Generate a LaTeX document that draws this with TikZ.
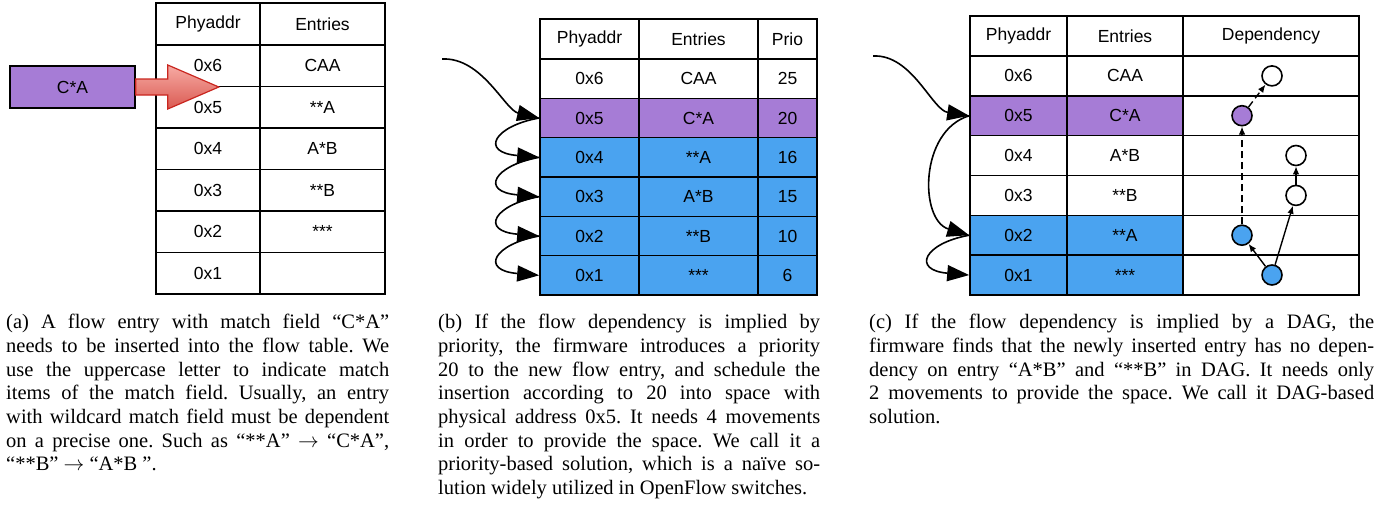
\documentclass[tikz,border=0pt]{standalone}
\usepackage{fontspec}
\setmainfont{Liberation Serif}
\setsansfont{Liberation Sans}
\usetikzlibrary{arrows.meta}
\definecolor{purp}{HTML}{A67CD6}
\definecolor{blu}{HTML}{4AA3F0}
\definecolor{arrred}{HTML}{C9261F}
\definecolor{arrtop}{HTML}{F7ABA4}
\definecolor{arrbot}{HTML}{DA5A52}
\newcommand{\jline}[2]{\makebox[#1][s]{#2}}
\frenchspacing
\begin{document}
\begin{tikzpicture}[x=1pt,y=-1pt,
  cell/.style={draw, line width=1.6pt, inner sep=0pt, font=\sffamily\fontsize{17.5}{20}\selectfont},
  depnode/.style={circle, draw, line width=1.6pt, minimum size=20pt, inner sep=0pt},
  move/.style={line width=1.6pt, -{Triangle[length=22pt,width=16pt]}},
  dep/.style={line width=1.4pt, -{Latex[length=8pt,width=6.5pt]}},
  depdash/.style={dep, dash pattern=on 7pt off 4pt},
  captext/.style={inner sep=0pt, anchor=north west, align=left, font=\fontsize{20.5}{23.7}\selectfont},
]
\useasboundingbox (0,0) rectangle (1396,506);

% ---------- panel (a) ----------
\node[cell, minimum width=104pt, minimum height=42pt] (a-h-1) at (208,24) {Phyaddr};
\node[cell, minimum width=125pt, minimum height=42pt] (a-h-2) at (322.5,24) {Entries};
\foreach \ad/\en [count=\i] in {0x6/CAA,0x5/**A,0x4/A*B,0x3/**B,0x2/***,0x1/{}}{
  \node[cell, minimum width=104pt, minimum height=41.5pt] (a-\i-1) at (208,{45+41.5*(\i-0.5)}) {\ad};
  \node[cell, minimum width=125pt, minimum height=41.5pt] (a-\i-2) at (322.5,{45+41.5*(\i-0.5)}) {\en};
}
\node[cell, fill=purp, minimum width=125pt, minimum height=42pt] (cab) at (72.5,87) {C*A};
\draw[line width=1.2pt, draw=arrred, top color=arrtop, bottom color=arrbot]
  (cab.east) ++(0,-8) -- ++(32,0) -- ++(0,-14) -- ++(51,22) -- ++(-51,22) -- ++(0,-14) -- ++(-32,0) -- cycle;

% ---------- panel (b) ----------
\node[cell, minimum width=99pt, minimum height=40pt] (b-h-1) at (589.5,39) {Phyaddr};
\node[cell, minimum width=119pt, minimum height=40pt] (b-h-2) at (698.5,39) {Entries};
\node[cell, minimum width=59pt, minimum height=40pt] (b-h-3) at (787.5,39) {Prio};
\foreach \ad/\en/\pr/\fc [count=\i] in {0x6/CAA/25/white,0x5/C*A/20/purp,0x4/**A/16/blu,0x3/A*B/15/blu,0x2/**B/10/blu,0x1/***/6/blu}{
  \node[cell, fill=\fc, minimum width=99pt, minimum height=39.33pt] (b-\i-1) at (589.5,{59+39.33*(\i-0.5)}) {\ad};
  \node[cell, fill=\fc, minimum width=119pt, minimum height=39.33pt] (b-\i-2) at (698.5,{59+39.33*(\i-0.5)}) {\en};
  \node[cell, fill=\fc, minimum width=59pt, minimum height=39.33pt] (b-\i-3) at (787.5,{59+39.33*(\i-0.5)}) {\pr};
}
\coordinate (b-in) at (442,59);
\draw[move] (b-in) .. controls (482,57) and (505,110) .. (b-2-1.west);
\foreach \i [evaluate=\i as \j using int(\i+1)] in {2,3,4,5}{
  \draw[move] (b-\i-1.west) .. controls +(-45,8) and +(-60,-5) .. (b-\j-1.west);
}

% ---------- panel (c) ----------
\node[cell, minimum width=97pt, minimum height=40pt] (c-h-1) at (1018.5,36) {Phyaddr};
\node[cell, minimum width=116pt, minimum height=40pt] (c-h-2) at (1125,36) {Entries};
\node[cell, minimum width=176pt, minimum height=40pt] (c-h-3) at (1271,36) {Dependency};
\foreach \ad/\en/\fc [count=\i] in {0x6/CAA/white,0x5/C*A/purp,0x4/A*B/white,0x3/**B/white,0x2/**A/blu,0x1/***/blu}{
  \node[cell, fill=\fc, minimum width=97pt, minimum height=39.83pt] (c-\i-1) at (1018.5,{56+39.83*(\i-0.5)}) {\ad};
  \node[cell, fill=\fc, minimum width=116pt, minimum height=39.83pt] (c-\i-2) at (1125,{56+39.83*(\i-0.5)}) {\en};
  \node[cell, minimum width=176pt, minimum height=39.83pt] (c-\i-3) at (1271,{56+39.83*(\i-0.5)}) {};
}
\coordinate (c-in) at (873,56);
\draw[move] (c-in) .. controls (912,54) and (932,110) .. (c-2-1.west);
\draw[move] (c-2-1.west) .. controls +(-50,15) and +(-50,-15) .. (c-5-1.west);
\draw[move] (c-5-1.west) .. controls +(-45,8) and +(-58,-5) .. (c-6-1.west);

\node[depnode] (d6) at (1272,75.9) {};
\node[depnode, fill=purp] (d5) at (1242,115.7) {};
\node[depnode] (d4) at (1296,155.5) {};
\node[depnode] (d3) at (1296,195.4) {};
\node[depnode, fill=blu] (d2) at (1242,235.2) {};
\node[depnode, fill=blu] (d1) at (1272,275) {};
\draw[depdash] (d5) -- (d6);
\draw[depdash] (d2) -- (d5);
\draw[dep] (d3) -- (d4);
\draw[dep] (d1) -- (d2);
\draw[dep] (d1) -- (d3);

% ---------- captions ----------
\node[captext] (capa) at (6,314) {%
\jline{383pt}{(a) A flow entry with match field “C*A”}\\
\jline{383pt}{needs to be inserted into the flow table. We}\\
\jline{383pt}{use the uppercase letter to indicate match}\\
\jline{383pt}{items of the match field. Usually, an entry}\\
\jline{383pt}{with wildcard match field must be dependent}\\
\jline{383pt}{on a precise one. Such as “**A” $\rightarrow$ “C*A”,}\\
“**B” $\rightarrow$ “A*B ”.};

\node[captext] (capb) at (438,314) {%
\jline{382pt}{(b) If the flow dependency is implied by}\\
\jline{382pt}{priority, the firmware introduces a priority}\\
\jline{382pt}{20 to the new flow entry, and schedule the}\\
\jline{382pt}{insertion according to 20 into space with}\\
\jline{382pt}{physical address 0x5. It needs 4 movements}\\
\jline{382pt}{in order to provide the space. We call it a}\\
\jline{382pt}{priority-based solution, which is a naïve so-}\\
lution widely utilized in OpenFlow switches.};

\node[captext] (capc) at (869,314) {%
\jline{505pt}{(c) If the flow dependency is implied by a DAG, the}\\
\jline{505pt}{firmware finds that the newly inserted entry has no depen-}\\
\jline{505pt}{dency on entry “A*B” and “**B” in DAG. It needs only}\\
\jline{505pt}{2 movements to provide the space. We call it DAG-based}\\
solution.};
\end{tikzpicture}
\end{document}
